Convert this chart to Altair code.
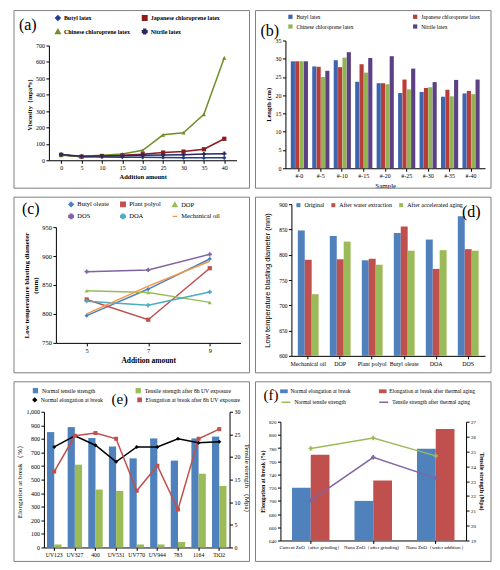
import altair as alt
import pandas as pd

SERIF = "Liberation Serif"
SANS = "Liberation Sans"
FRAME_COLOR = "#808080"

# ---------------- data ----------------
# (a) viscosity
a_amounts = ["0", "5", "10", "15", "20", "25", "30", "35", "40"]
a_series = ["Butyl latex", "Japanese chloroprene latex", "Chinese chloroprene latex", "Nitrile latex"]
a_butyl = [33, 22, 20, 19, 18, 17, 16, 15, 15]
a_japanese = [33, 22, 26, 30, 37, 47, 53, 67, 131]
a_chinese = [30, 24, 30, 38, 61, 155, 168, 280, 625]
a_nitrile = [35, 24, 26, 28, 31, 32, 34, 38, 40]
a_colors = ["#1f3f8f", "#8e1c1c", "#6f8f2a", "#28285c"]
a_shapes = ["diamond", "square", "triangle-up", "cross"]
a_yticks = [0, 100, 200, 300, 400, 500, 600, 700]

# (b) length
b_samples = ["#-0", "#-5", "#-10", "#-15", "#-20", "#-25", "#-30", "#-35", "#-40"]
b_series = ["Butyl latex", "Japanese chloroprene latex", "Chinese chloroprene latex", "Nitrile latex"]
b_butyl = [29.3, 27.9, 29.6, 23.7, 23.3, 20.6, 20.9, 19.6, 20.5]
b_japanese = [29.3, 27.8, 27.7, 28.5, 23.3, 24.3, 22.0, 21.5, 21.2]
b_chinese = [29.3, 25.0, 30.3, 26.2, 23.0, 21.6, 22.2, 19.7, 20.3]
b_nitrile = [29.3, 26.7, 31.8, 30.2, 30.7, 27.3, 23.6, 24.2, 24.3]
b_colors = ["#3d64ae", "#b83c38", "#93b254", "#5b4084"]
b_yticks = [0, 5, 10, 15, 20, 25, 30, 35]

# (c) blasting diameter vs addition amount
c_amounts = ["5", "7", "9"]
c_series = ["Butyl oleate", "Plant polyol", "DOP", "DOS", "DOA", "Mechanical oil"]
c_butyl = [797, 843, 895]
c_plant = [825, 790, 879]
c_dop = [840, 837, 820]
c_dos = [873, 876, 903]
c_doa = [822, 815, 838]
c_mech = [800, 848, 891]
c_colors = ["#4f81bd", "#c0504d", "#9bbb59", "#8064a2", "#4bacc6", "#f79646"]
c_shapes = ["diamond", "square", "triangle-up", "cross", "cross", "stroke"]
c_yticks = [750, 800, 850, 900, 950]

# (d) blasting diameter after treatments
d_cats = ["Mechanical oil", "DOP", "Plant polyol", "Butyl oleate", "DOA", "DOS"]
d_series = ["Original", "After water extraction", "After accelerated aging"]
d_original = [848, 837, 789, 843, 830, 876]
d_water = [790, 791, 792, 856, 772, 811]
d_aging = [722, 826, 780, 808, 809, 808]
d_colors = ["#4f81bd", "#c0504d", "#9bbb59"]
d_yticks = [600, 650, 700, 750, 800, 850, 900]

# (e) UV exposure
e_cats = ["UV123", "UV327", "400", "UV531", "UV770", "UV944", "783", "1164", "TiO2"]
e_bar_series = ["Normal tensile strength", "Tensile strength after 8h UV exposure"]
e_line_series = ["Normal elongation at break", "Elongation at break after 8h UV exposure"]
e_ts_normal = [25.5, 26.6, 24.2, 22.3, 19.7, 24.1, 19.2, 24.1, 24.5]
e_ts_uv = [0.66, 18.3, 12.8, 12.5, 0.66, 0.66, 1.2, 16.3, 13.6]
e_el_normal = [741, 823, 753, 631, 741, 741, 801, 772, 779]
e_el_uv = [559, 823, 843, 801, 418, 602, 280, 801, 872]
e_bar_colors = ["#4f81bd", "#9bbb59"]
e_line_colors = ["#000000", "#c0504d"]
e_line_shapes = ["diamond", "square"]
e_left_ticks = [0, 100, 200, 300, 400, 500, 600, 700, 800, 900, 1000]
e_right_ticks = [0, 5, 10, 15, 20, 25, 30]

# (f) thermal aging
f_cats = ["Current ZnO（after grinding）", "Nano ZnO（after grinding）", "Nano ZnO（water addition）"]
f_bar_series = ["Normal elongation at break", "Elongation at break after thermal aging"]
f_line_series = ["Normal tensile strength", "Tensile strength after thermal aging"]
f_el_normal = [720, 700, 779]
f_el_aged = [770, 731, 809]
f_ts_normal = [25.2, 25.9, 24.7]
f_ts_aged = [21.7, 24.6, 23.2]
f_bar_colors = ["#4f81bd", "#c0504d"]
f_line_colors = ["#9bbb59", "#8064a2"]
f_left_ticks = [640, 660, 680, 700, 720, 740, 760, 780, 800, 820]
f_right_ticks = [19, 20, 21, 22, 23, 24, 25, 26, 27]


# ---------------- helpers ----------------
def long_df(cats, names, arrays):
    rows = []
    for n, arr in zip(names, arrays):
        for c, v in zip(cats, arr):
            rows.append({"cat": c, "series": n, "value": v})
    return pd.DataFrame(rows)


def axis(title, values=None, lsize=6, tsize=6.5, tweight="bold", tfont=SERIF, **kw):
    props = dict(grid=False, domainColor="#000000", tickColor="#000000", tickSize=3,
                 labelFont=SERIF, labelFontSize=lsize, labelColor="#000000", labelPadding=1.5,
                 titleFont=tfont, titleFontSize=tsize, titleFontWeight=tweight,
                 titleColor="#000000", titlePadding=3, title=title)
    if values is not None:
        props["values"] = values
    props.update(kw)
    return alt.Axis(**props)


def legend(x, y, cols, colpad, size=6, weight="normal", **kw):
    props = dict(orient="none", legendX=x, legendY=y, columns=cols, columnPadding=colpad,
                 direction="horizontal", rowPadding=2, title=None, labelFont=SERIF,
                 labelFontSize=size, labelFontWeight=weight, labelColor="#000000",
                 labelLimit=300, symbolSize=22, labelOffset=3, padding=0)
    props.update(kw)
    return alt.Legend(**props)


def frame(pw, ph, l, t, r, b):
    return alt.Chart(pd.DataFrame({"k": [0]})).mark_rect(
        fill="#ffffff", fillOpacity=0, stroke=FRAME_COLOR, strokeWidth=1
    ).encode(x=alt.value(-l), x2=alt.value(pw + r), y=alt.value(-t), y2=alt.value(ph + b))


def tag(txt, x, y, size=16, align="left"):
    return alt.Chart(pd.DataFrame({"k": [0]})).mark_text(
        text=txt, font=SERIF, fontSize=size, align=align, baseline="middle", color="#000000"
    ).encode(x=alt.value(x), y=alt.value(y))


def spacer():
    return alt.Chart(pd.DataFrame({"k": [0]})).mark_rect(opacity=0).encode(
        x=alt.value(0), x2=alt.value(1), y=alt.value(0), y2=alt.value(1)
    ).properties(width=1, height=1)


RES = dict(color="independent", shape="independent", fill="independent",
           stroke="independent", xOffset="independent", x="independent", y="independent")


def wrap(panel):
    return alt.vconcat(spacer(), panel, spacing=0).resolve_scale(**RES)


# ---------------- (a) ----------------
a_df = long_df(a_amounts, a_series, [a_butyl, a_japanese, a_chinese, a_nitrile])
a_leg = legend(6, -31, 2, 8, size=6, weight="bold", symbolSize=20)
a_x = alt.X("cat:O", sort=a_amounts, scale=alt.Scale(type="point", padding=0.6),
            axis=axis("Addition amount", labelAngle=0))
a_y = alt.Y("value:Q", scale=alt.Scale(domain=[0, 700]), axis=axis("Viscosity（mpa*s）", values=a_yticks))
a_color = alt.Color("series:N", sort=a_series, scale=alt.Scale(domain=a_series, range=a_colors), legend=a_leg)
a_line = alt.Chart(a_df).mark_line(strokeWidth=1.5).encode(x=a_x, y=a_y, color=a_color)
a_pts = alt.Chart(a_df).mark_point(filled=True, size=18, opacity=1).encode(
    x=a_x, y=a_y, color=a_color,
    shape=alt.Shape("series:N", sort=a_series, scale=alt.Scale(domain=a_series, range=a_shapes), legend=a_leg))
PW_A, PH_A = 188, 115
chart_a = alt.layer(frame(PW_A, PH_A, 35, 35, 13, 28), a_line, a_pts, tag("(a)", -30, -21)).properties(
    width=PW_A, height=PH_A)

# ---------------- (b) ----------------
b_df = long_df(b_samples, b_series, [b_butyl, b_japanese, b_chinese, b_nitrile])
b_leg = legend(2, -27, 2, 58, size=5.5, symbolType="square", symbolSize=18, rowPadding=3)
b_bars = alt.Chart(b_df).mark_bar().encode(
    x=alt.X("cat:N", sort=b_samples, scale=alt.Scale(paddingInner=0.2, paddingOuter=0.25),
            axis=axis("Sample", tweight="normal", tsize=7, labelAngle=0)),
    xOffset=alt.XOffset("series:N", sort=b_series, scale=alt.Scale(domain=b_series, paddingInner=0.05)),
    y=alt.Y("value:Q", scale=alt.Scale(domain=[0, 35]), axis=axis("Length (cm)", values=b_yticks)),
    color=alt.Color("series:N", sort=b_series, scale=alt.Scale(domain=b_series, range=b_colors), legend=b_leg))
PW_B, PH_B = 200, 128
chart_b = alt.layer(frame(PW_B, PH_B, 30, 30, 6, 20), b_bars, tag("(b)", -25, -10)).properties(
    width=PW_B, height=PH_B)

# ---------------- (c) ----------------
c_df = long_df(c_amounts, c_series, [c_butyl, c_plant, c_dop, c_dos, c_doa, c_mech])
c_leg = legend(12, -26, 3, 8, size=6.5, symbolSize=22, symbolStrokeWidth=1.2)
c_x = alt.X("cat:O", sort=c_amounts, scale=alt.Scale(type="point", padding=0.5),
            axis=axis("Addition amount", lsize=6.5, tsize=7.5, labelAngle=0))
c_y = alt.Y("value:Q", scale=alt.Scale(domain=[750, 950]),
            axis=axis(["Low temperature blasting diameter", "(mm)"], values=c_yticks, lsize=6.5, tsize=7))
c_color = alt.Color("series:N", sort=c_series, scale=alt.Scale(domain=c_series, range=c_colors), legend=c_leg)
c_line = alt.Chart(c_df).mark_line(strokeWidth=1.5).encode(x=c_x, y=c_y, color=c_color)
c_pts = alt.Chart(c_df).transform_filter("datum.series != 'Mechanical oil'").mark_point(
    filled=True, size=18, opacity=1).encode(
    x=c_x, y=c_y, color=c_color,
    shape=alt.Shape("series:N", sort=c_series, scale=alt.Scale(domain=c_series, range=c_shapes), legend=c_leg))
PW_C, PH_C = 185, 116
chart_c = alt.layer(frame(PW_C, PH_C, 42, 30, 9, 30), c_line, c_pts, tag("(c)", -34, -18)).properties(
    width=PW_C, height=PH_C)

# ---------------- (d) ----------------
d_df = long_df(d_cats, d_series, [d_original, d_water, d_aging])
d_leg = legend(4, -2, 3, 6, size=6, symbolType="square", symbolSize=16)
d_bars = alt.Chart(d_df).transform_calculate(base="600").mark_bar().encode(
    x=alt.X("cat:N", sort=d_cats, scale=alt.Scale(paddingInner=0.35, paddingOuter=0.2),
            axis=axis(None, labelAngle=0, lsize=6)),
    xOffset=alt.XOffset("series:N", sort=d_series, scale=alt.Scale(domain=d_series, paddingInner=0.0)),
    y=alt.Y("value:Q", scale=alt.Scale(domain=[600, 900]),
            axis=axis("Low temperature blasting diameter (mm)", values=d_yticks, lsize=5.5,
                      tsize=7.5, tweight="normal", tfont=SANS, titlePadding=7)),
    y2=alt.Y2("base:Q"),
    color=alt.Color("series:N", sort=d_series, scale=alt.Scale(domain=d_series, range=d_colors), legend=d_leg))
PW_D, PH_D = 194, 152
chart_d = alt.layer(frame(PW_D, PH_D, 36, 7, 6, 17), d_bars, tag("(d)", 171, 8)).properties(
    width=PW_D, height=PH_D)

# ---------------- (e) ----------------
e_bar_df = long_df(e_cats, e_bar_series, [e_ts_normal, e_ts_uv])
e_line_df = long_df(e_cats, e_line_series, [e_el_normal, e_el_uv])
e_leg1 = legend(-12, -25, 2, 39, size=5.7, symbolType="square", symbolSize=28)
e_leg2 = legend(-12, -15, 2, 31, size=5.7, symbolSize=10)
e_x = alt.X("cat:N", sort=e_cats, scale=alt.Scale(paddingInner=0.3, paddingOuter=0.15),
            axis=axis(None, labelAngle=0, lsize=5.8))
e_bars = alt.Chart(e_bar_df).mark_bar().encode(
    x=e_x,
    xOffset=alt.XOffset("series:N", sort=e_bar_series, scale=alt.Scale(domain=e_bar_series, paddingInner=0.0)),
    y=alt.Y("value:Q", scale=alt.Scale(domain=[0, 30]),
            axis=axis("Tensile strength （Mpa）", values=e_right_ticks, orient="right",
                      tweight="normal", tsize=7, lsize=6)),
    color=alt.Color("series:N", sort=e_bar_series, scale=alt.Scale(domain=e_bar_series, range=e_bar_colors),
                    legend=e_leg1))
e_ly = alt.Y("value:Q", scale=alt.Scale(domain=[0, 1000]),
             axis=axis("Elongation at break （%）", values=e_left_ticks, orient="left",
                       tweight="normal", tsize=7, lsize=6))
e_lines = alt.Chart(e_line_df).mark_line(strokeWidth=1.5).encode(
    x=alt.X("cat:N", sort=e_cats), y=e_ly,
    stroke=alt.Stroke("series:N", sort=e_line_series,
                      scale=alt.Scale(domain=e_line_series, range=e_line_colors), legend=e_leg2))
e_pts = alt.Chart(e_line_df).mark_point(filled=True, size=16, opacity=1).encode(
    x=alt.X("cat:N", sort=e_cats), y=e_ly,
    fill=alt.Fill("series:N", sort=e_line_series,
                  scale=alt.Scale(domain=e_line_series, range=e_line_colors), legend=None),
    shape=alt.Shape("series:N", sort=e_line_series,
                    scale=alt.Scale(domain=e_line_series, range=e_line_shapes), legend=None))
PW_E, PH_E = 186, 136
chart_e = alt.layer(
    frame(PW_E, PH_E, 30, 30, 20, 14), e_bars, alt.layer(e_lines, e_pts), tag("(e)", 76, -13, 15, "center")
).resolve_scale(y="independent").properties(width=PW_E, height=PH_E)

# ---------------- (f) ----------------
f_bar_df = long_df(f_cats, f_bar_series, [f_el_normal, f_el_aged])
f_line_df = long_df(f_cats, f_line_series, [f_ts_normal, f_ts_aged])
f_leg1 = legend(0, -34, 2, 27, size=5.5, symbolType="M-1.4,-0.7H1.4V0.7H-1.4Z", symbolSize=30)
f_leg2 = legend(0, -25, 2, 30, size=5.5, symbolType="stroke", symbolStrokeWidth=1.5, symbolSize=80)
f_x = alt.X("cat:N", sort=f_cats, scale=alt.Scale(paddingInner=0.4, paddingOuter=0.185),
            axis=axis(None, labelAngle=0, lsize=5))
f_bars = alt.Chart(f_bar_df).transform_calculate(base="640").mark_bar().encode(
    x=f_x,
    xOffset=alt.XOffset("series:N", sort=f_bar_series, scale=alt.Scale(domain=f_bar_series, paddingInner=0.0)),
    y=alt.Y("value:Q", scale=alt.Scale(domain=[640, 820]),
            axis=axis("Elongation at break (%)", values=f_left_ticks, orient="left",
                      tweight="bold", tsize=6, lsize=5)),
    y2=alt.Y2("base:Q"),
    color=alt.Color("series:N", sort=f_bar_series, scale=alt.Scale(domain=f_bar_series, range=f_bar_colors),
                    legend=f_leg1))
f_ly = alt.Y("value:Q", scale=alt.Scale(domain=[19, 27]),
             axis=axis("Tensile strength (Mpa)", values=f_right_ticks, orient="right",
                       tweight="bold", tsize=6, lsize=5))
f_lines = alt.Chart(f_line_df).mark_line(strokeWidth=1.5).encode(
    x=alt.X("cat:N", sort=f_cats), y=f_ly,
    stroke=alt.Stroke("series:N", sort=f_line_series,
                      scale=alt.Scale(domain=f_line_series, range=f_line_colors), legend=f_leg2))
f_pts = alt.Chart(f_line_df).mark_point(filled=True, size=20, opacity=1, shape="cross").encode(
    x=alt.X("cat:N", sort=f_cats), y=f_ly,
    fill=alt.Fill("series:N", sort=f_line_series,
                  scale=alt.Scale(domain=f_line_series, range=f_line_colors), legend=None))
PW_F, PH_F = 186, 119
chart_f = alt.layer(
    frame(PW_F, PH_F, 25, 40, 25, 21), f_bars, alt.layer(f_lines, f_pts), tag("(f)", -17, -27, 15)
).resolve_scale(y="independent").properties(width=PW_F, height=PH_F)

# ---------------- assemble ----------------
row1 = alt.hconcat(spacer(), wrap(chart_a), wrap(chart_b), spacing=4).resolve_scale(**RES)
row2 = alt.hconcat(spacer(), wrap(chart_c), wrap(chart_d), spacing=4).resolve_scale(**RES)
row3 = alt.hconcat(spacer(), wrap(chart_e), wrap(chart_f), spacing=4).resolve_scale(**RES)

chart = alt.vconcat(row1, row2, row3, spacing=6).resolve_scale(**RES).properties(
    padding=0, background="white"
).configure_view(strokeWidth=0)

chart.save("out.html", embed_options={"renderer": "svg", "actions": False})
